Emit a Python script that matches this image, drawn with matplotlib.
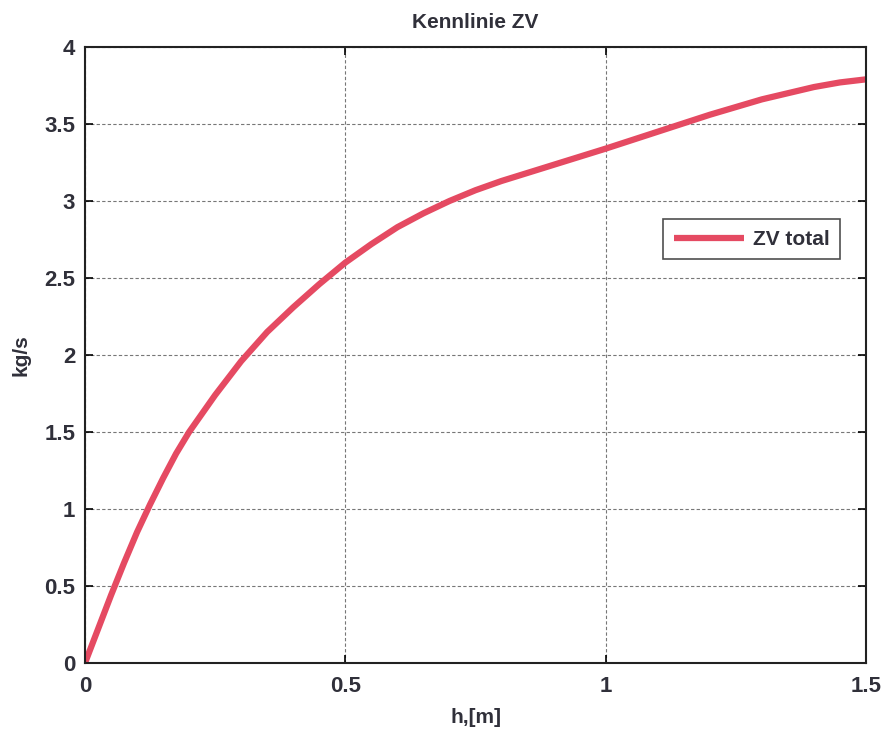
import matplotlib
matplotlib.use("Agg")
import matplotlib.pyplot as plt

h_values = [0.0, 0.025, 0.05, 0.075, 0.1, 0.125, 0.15, 0.175, 0.2, 0.25, 0.3, 0.35,
            0.4, 0.45, 0.5, 0.55, 0.6, 0.65, 0.7, 0.75, 0.8, 0.9, 1.0, 1.1, 1.2,
            1.3, 1.4, 1.45, 1.5]
zv_total = [0.0, 0.22, 0.44, 0.65, 0.85, 1.03, 1.2, 1.36, 1.5, 1.74, 1.96, 2.15,
            2.31, 2.46, 2.6, 2.72, 2.83, 2.92, 3.0, 3.07, 3.13, 3.235, 3.34, 3.45, 3.56,
            3.66, 3.74, 3.77, 3.79]
x_ticks = [0, 0.5, 1, 1.5]
x_tick_labels = ["0", "0.5", "1", "1.5"]
y_ticks = [0, 0.5, 1, 1.5, 2, 2.5, 3, 3.5, 4]
y_tick_labels = ["0", "0.5", "1", "1.5", "2", "2.5", "3", "3.5", "4"]

plt.rcParams['font.family'] = ["Liberation Sans", "DejaVu Sans"]
txt = "#30303a"

fig = plt.figure(figsize=(8.84, 7.32), dpi=100)
ax = fig.add_axes([85/884, 69/732, 781/884, 616/732])

ax.plot(h_values, zv_total, color="#e54a62", linewidth=4.5, label="ZV total",
        solid_capstyle="butt", solid_joinstyle="round")

ax.set_xlim(0, 1.5)
ax.set_ylim(0, 4)
ax.set_xticks(x_ticks)
ax.set_xticklabels(x_tick_labels)
ax.set_yticks(y_ticks)
ax.set_yticklabels(y_tick_labels)
ax.grid(True, color="#777777", linestyle=(0, (3, 2)), linewidth=0.8)
ax.tick_params(direction="in", length=6, width=1.2, labelsize=16, colors="black",
               labelcolor=txt, top=True, right=True)
ax.tick_params(axis="x", pad=9)
ax.tick_params(axis="y", pad=7)
for lab in ax.get_xticklabels() + ax.get_yticklabels():
    lab.set_fontweight("bold")
for s in ax.spines.values():
    s.set_linewidth(1.5)
    s.set_color("#222222")

ax.set_title("Kennlinie ZV", fontsize=15, color=txt, pad=14, fontweight="bold")
ax.set_xlabel("h,[m]", fontsize=15, color=txt, labelpad=8, fontweight="bold")
ax.set_ylabel("kg/s", fontsize=15, color=txt, labelpad=10, fontweight="bold")

leg = ax.legend(loc="upper right", bbox_to_anchor=(0.98, 0.737), fontsize=15,
                frameon=True, fancybox=False, edgecolor="#222222", handlelength=3.4,
                borderpad=0.5, handletextpad=0.4, labelcolor=txt,
                prop={"weight": "bold", "size": 15})
leg.get_frame().set_linewidth(1.2)

fig.savefig("out.png", dpi=100, facecolor="white")
